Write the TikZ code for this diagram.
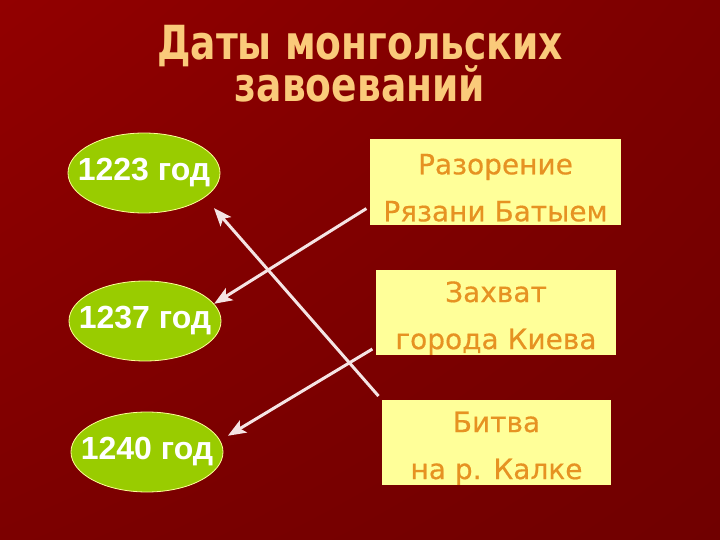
\documentclass[tikz,border=0pt]{standalone}
\usepackage{fontspec}
\setmainfont{DejaVu Sans}
\newfontfamily\titlefont[FakeStretch=0.80]{DejaVu Sans Bold}
\newfontfamily\eventfont[FakeBold=0.5]{DejaVu Sans}
\newfontfamily\yearfont{Liberation Sans}
\usepackage{xcolor}
\usetikzlibrary{shapes.geometric,arrows.meta,shadings}

\definecolor{bgdark}{RGB}{112,0,0}
\definecolor{bgmid}{RGB}{124,0,0}
\definecolor{bglight}{RGB}{146,0,0}
\definecolor{titlecol}{RGB}{250,202,122}
\definecolor{yeargreen}{RGB}{153,204,0}
\definecolor{boxfill}{RGB}{255,255,153}
\definecolor{boxtext}{RGB}{230,146,34}
\definecolor{arrowcol}{RGB}{245,228,228}

% title lines sit closer than the font asks for
\newcommand{\titlesize}{\titlefont\fontsize{47}{42}\selectfont\lineskiplimit=-50pt\relax}
% lifts the first line of an event text
\newcommand{\topstrut}{\rule{0pt}{32pt}}

\begin{document}
\begin{tikzpicture}[x=1pt, y=-1pt]
		% Define the styles for the year and event nodes
		\tikzstyle{year}=[ellipse, draw=boxfill, line width=0.8pt, fill=yeargreen, text=white, minimum width=152pt, minimum height=80pt, inner sep=0pt, font=\yearfont\bfseries\fontsize{32}{36}\selectfont]
		\tikzstyle{event}=[rectangle, fill=boxfill, text=boxtext, align=center, inner sep=0pt, font=\eventfont\fontsize{28}{47}\selectfont]
		\tikzstyle{link}=[draw=arrowcol, line width=3pt, -{Stealth[length=18pt, width=14pt, inset=4pt]}]

		% Background
		\useasboundingbox (0,0) rectangle (720,540);
		\shade[upper left=bglight, upper right=bgmid, lower left=bgmid, lower right=bgdark] (0,0) rectangle (720,540);

		% Title
		\node (title) [text=titlecol, align=center, font=\titlesize] at (360,64) {Даты монгольских\\завоеваний};

		% Define nodes
		\node (e1) [year] at (144,173) {\makebox[0pt]{1223 год}};
		\node (e2) [year] at (145,321) {\makebox[0pt]{1237 год}};
		\node (e3) [year] at (147,452) {\makebox[0pt]{1240 год}};
		\node (b1) [event, minimum width=251pt, minimum height=86pt] at (495.5,182) {\topstrut Разорение\\Рязани Батыем};
		\node (b2) [event, minimum width=240pt, minimum height=85pt] at (496,312.5) {\topstrut Захват\\города Киева};
		\node (b3) [event, minimum width=229pt, minimum height=85pt] at (496.5,442.5) {\topstrut Битва\\на р. Калке};

		% Define edges
		\draw[link, shorten <=4pt] (b1.191) -- (e2.14);
		\draw[link, shorten <=5pt, shorten >=14pt] (b3.north west) -- (e1.-22);
		\draw[link, shorten <=4pt, shorten >=9pt] (b2.196) -- (e3.9);
	\end{tikzpicture}
\end{document}
